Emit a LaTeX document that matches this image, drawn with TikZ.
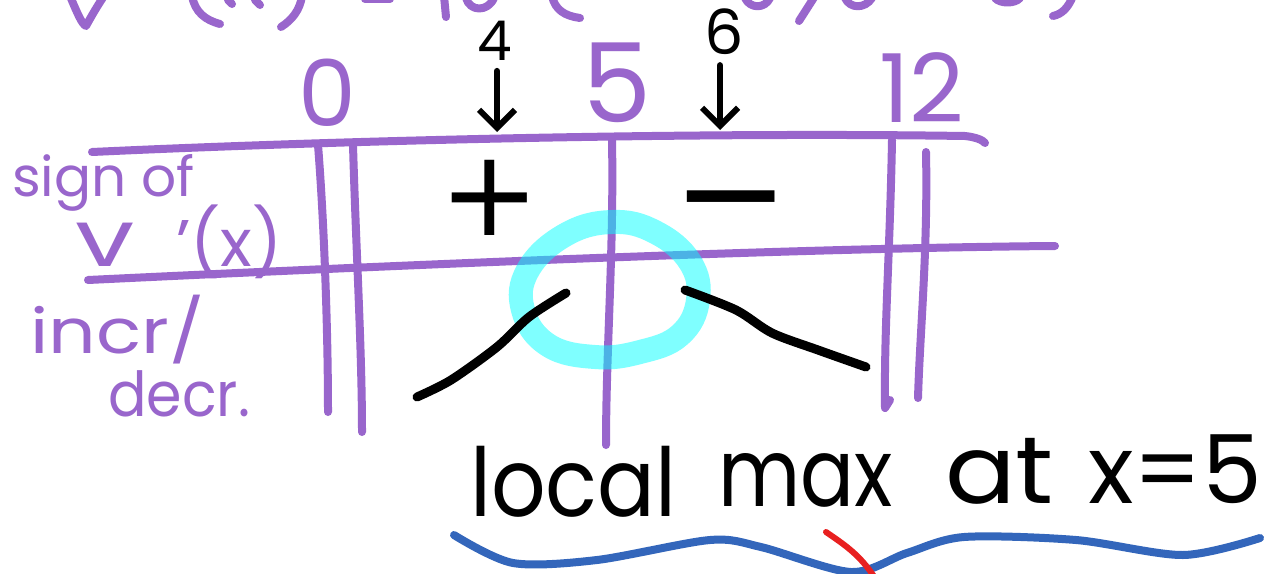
\documentclass[tikz,border=0pt]{standalone}
\usepackage{fontspec}
\setmainfont{Poppins}
\newfontfamily\symfont{DejaVu Sans}
\usetikzlibrary{arrows.meta}
\definecolor{pur}{HTML}{9966CC}
\definecolor{cya}{HTML}{00FFFF}
\definecolor{blu}{HTML}{3366BB}
\definecolor{rd}{HTML}{E82020}
\tikzset{
  pline/.style={draw=pur, line width=8pt, line cap=round, line join=round},
  bline/.style={draw=black, line width=9pt, line cap=round, line join=round},
  ptext/.style={text=pur, inner sep=0pt},
  btext/.style={text=black, inner sep=0pt},
  arr/.style={draw=black, line width=6pt, line cap=round, shorten <=10pt, -{Straight Barb[length=18pt,width=36pt]}},
  ring/.style={draw=cya, line width=24pt, draw opacity=0.5},
}
\begin{document}
\begin{tikzpicture}[x=1pt,y=-1pt]
\useasboundingbox[fill=white] (0,0) rectangle (1284,573);
% top cut-off fragments
\draw[pline] (70,-4) .. controls (78,15) and (82,24) .. (86,26) .. controls (92,15) and (98,5) .. (104,-4);
\draw[pline] (192,-4) .. controls (195,12) and (205,20) .. (220,24);
\draw[pline] (228,0) -- (232,4);
\draw[pline] (255,0) -- (260,5);
\draw[pline] (302,-4) .. controls (300,10) and (292,20) .. (281,27);
\draw[pline] (365,-1) -- (390,-1);
\draw[pline] (444,-4) -- (446,17);
\draw[pline] (466,-2) .. controls (470,12) and (488,12) .. (494,-2);
\draw[pline] (552,-4) .. controls (555,10) and (565,16) .. (580,18);
\draw[pline] (745,-2) .. controls (750,9) and (765,9) .. (770,-2);
\draw[pline] (815,-4) -- (799,21);
\draw[pline] (845,-2) .. controls (850,9) and (865,9) .. (872,-2);
\draw[pline] (995,-2) .. controls (1000,4) and (1015,4) .. (1020,-2);
\draw[pline] (1073,-4) .. controls (1068,8) and (1062,14) .. (1053,16);
% grid
\draw[pline] (92,152) .. controls (350,140) and (700,132) .. (965,136) .. controls (975,137) and (983,140) .. (985,143);
\draw[pline] (88,280) .. controls (400,265) and (800,248) .. (1055,246);
\draw[pline] (318,145) .. controls (324,220) and (328,330) .. (328,412);
\draw[pline] (353,145) .. controls (356,250) and (362,350) .. (362,432);
\draw[pline] (612,140) .. controls (614,250) and (606,350) .. (606,445);
\draw[pline] (892,140) .. controls (890,250) and (884,330) .. (885,408) -- (890,400);
\draw[pline] (926,152) .. controls (928,250) and (920,330) .. (918,398);
% highlight ring
\draw[ring] plot[smooth cycle, tension=0.7] coordinates {(612,222) (655,232) (690,262) (698,300) (680,335) (640,352) (595,357) (548,345) (523,310) (528,270) (565,235)};
% labels
\node[ptext, font=\fontsize{92}{92}\selectfont] (n0) at (327,93) {0};
\node[ptext, font=\fontsize{110}{110}\selectfont] (n5) at (617,83) {5};
\node[ptext, font=\fontsize{95}{95}\selectfont] (n12) at (922,88) {12};
\node[btext, font=\fontsize{55}{55}\selectfont] (n4) at (495,41) {4};
\node[btext, font=\fontsize{62}{62}\selectfont] (n6) at (724,32) {6};
\coordinate (a4) at (497,132);
\coordinate (a6) at (720,130);
\draw[arr] (n4.south -| a4) -- (a4);
\draw[arr] (n6.south -| a6) -- (a6);
\node[btext, font=\symfont\fontsize{120}{120}\selectfont] (plus) at (490,198) {+};
\node[btext, font=\symfont\fontsize{140}{140}\selectfont] (minus) at (731,216) {−};
\draw[bline] plot[smooth] coordinates {(417,397) (451,380) (497,347) (529,317) (566,293)};
\draw[bline] plot[smooth] coordinates {(685,290) (736,310) (772,333) (818,350) (866,367)};
\node[ptext, font=\fontsize{55}{55}\selectfont, anchor=base west] (sign) at (12,196) {sign of};
\node[ptext, font=\fontsize{66}{66}\selectfont, anchor=base west] (vx) at (75,266) {\scalebox{1.6}[1.2]{v}\hspace{42pt}'(x)};
\node[ptext, font=\fontsize{62}{62}\selectfont, anchor=base west] (incr) at (30,353) {\scalebox{1.2}[1]{incr/}};
\node[ptext, font=\fontsize{62}{62}\selectfont, anchor=base west] (decr) at (108,416) {\scalebox{0.92}[1]{decr.}};
% conclusion
\node[btext, font=\fontsize{95}{95}\selectfont, anchor=base west] (w1) at (470,516) {\scalebox{0.9}[1]{local}};
\node[btext, font=\fontsize{95}{95}\selectfont, anchor=base west] (w2) at (718,506) {\scalebox{0.84}[1]{max}};
\node[btext, font=\fontsize{95}{95}\selectfont, anchor=base west] (w3) at (945,503) {\scalebox{1.1}[1]{at}};
\node[btext, font=\fontsize{95}{95}\selectfont, anchor=base west] (w4) at (1088,503) {x=5};
\draw[draw=blu, line width=8pt, line cap=round] plot[smooth] coordinates {(454,535) (513,563) (597,560) (710,540) (761,547) (851,572) (907,553) (964,537) (1076,540) (1183,555) (1260,538)};
\draw[draw=rd, line width=6pt, line cap=round] (826,532) .. controls (845,545) and (860,555) .. (875,578);
\end{tikzpicture}
\end{document}
